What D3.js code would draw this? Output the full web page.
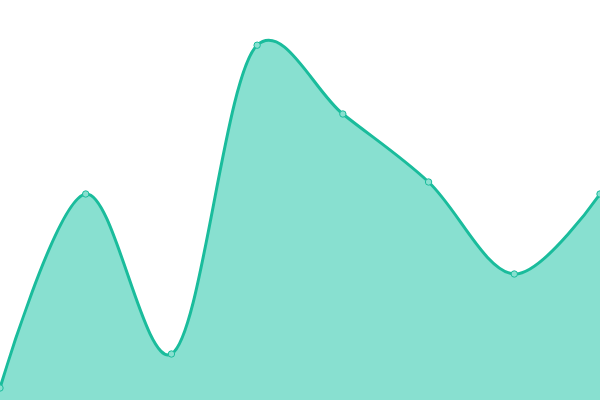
<!DOCTYPE html>
<html>
<head>
<meta charset="utf-8">
<script src="https://cdn.jsdelivr.net/npm/d3@7"></script>
<style>
  html, body { margin: 0; padding: 0; background: #fff; }
  svg { display: block; }
</style>
</head>
<body>
<svg id="chart" width="600" height="400"></svg>
<script>
// Values (y scale 0..100, no axes shown)
var labels = ["A", "B", "C", "D", "E", "F", "G", "H"];
var values = [3, 51.5, 11.5, 88.7, 71.5, 54.5, 31.5, 51.5];

var width = 600, height = 400;
var svg = d3.select("#chart");

var x = d3.scalePoint().domain(labels).range([0, width]);
var y = d3.scaleLinear().domain([0, 100]).range([height, 0]);

var data = labels.map(function(l, i) { return { label: l, value: values[i] }; });

// catmull-rom between uniform and centripetal, slight overshoot like the original
var curve = d3.curveCatmullRom.alpha(0.2);

var area = d3.area()
  .x(function(d) { return x(d.label); })
  .y0(height)
  .y1(function(d) { return y(d.value); })
  .curve(curve);

var line = d3.line()
  .x(function(d) { return x(d.label); })
  .y(function(d) { return y(d.value); })
  .curve(curve);

svg.append("path")
  .datum(data)
  .attr("d", area)
  .attr("fill", "#88e0d0");

svg.append("path")
  .datum(data)
  .attr("d", line)
  .attr("fill", "none")
  .attr("stroke", "#1abc9c")
  .attr("stroke-width", 3);

// small point markers
svg.selectAll("circle")
  .data(data)
  .enter()
  .append("circle")
  .attr("cx", function(d) { return x(d.label); })
  .attr("cy", function(d) { return y(d.value); })
  .attr("r", 3.2)
  .attr("fill", "#88e0d0")
  .attr("stroke", "#1abc9c")
  .attr("stroke-width", 1);
</script>
</body>
</html>
